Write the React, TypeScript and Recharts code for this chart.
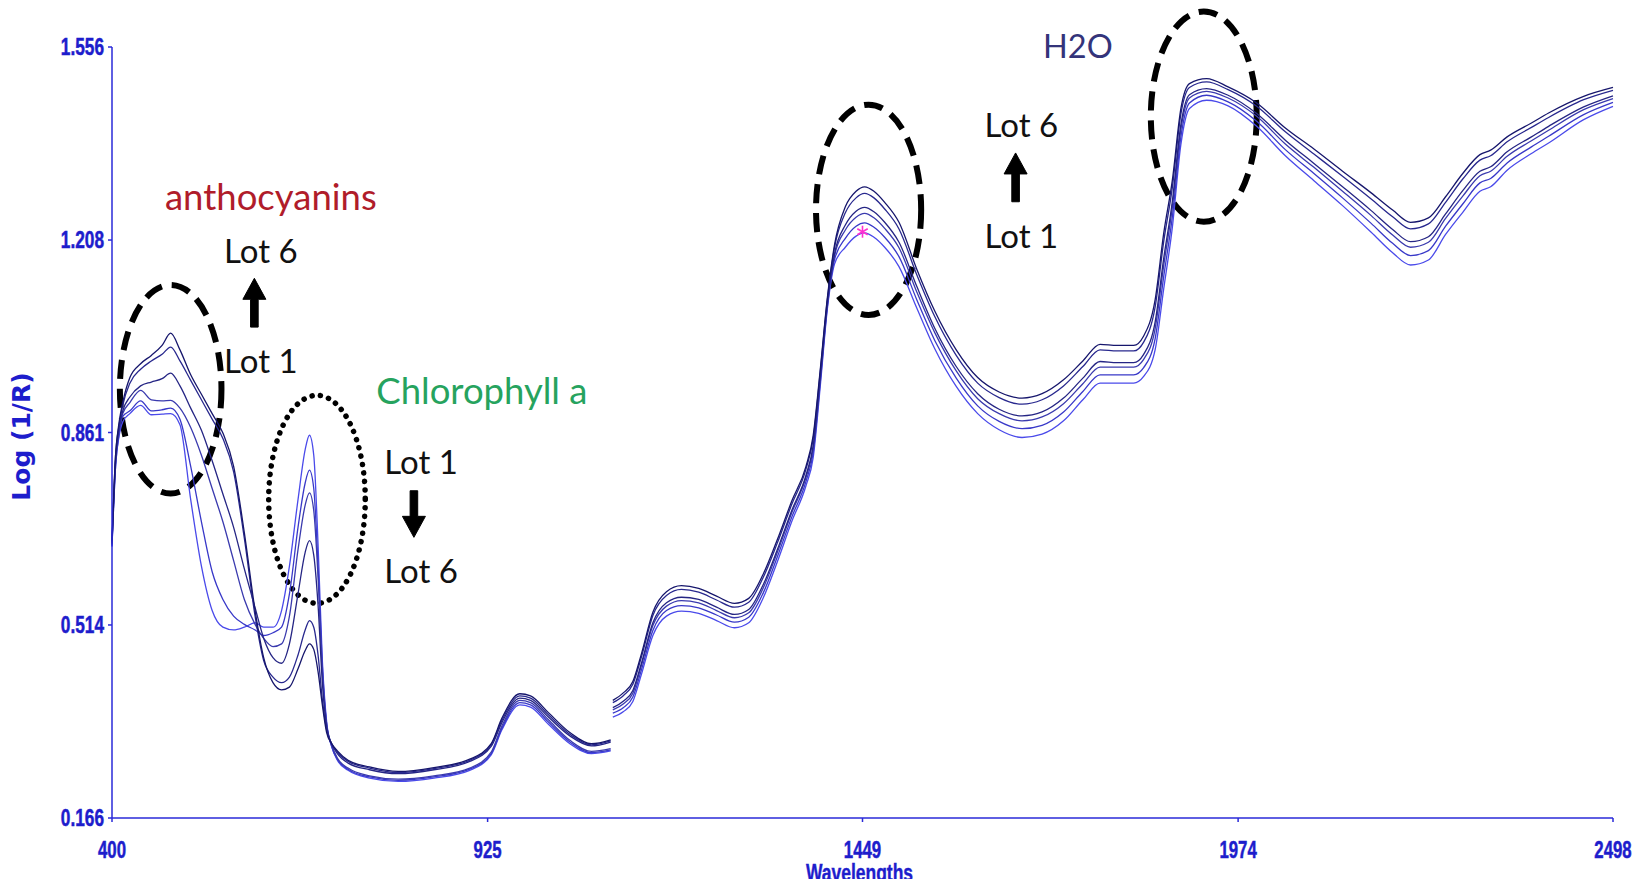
import React from 'react';
import { LineChart, Line, XAxis, YAxis, ReferenceArea, ReferenceDot } from 'recharts';

// Wavelengths (nm); the null row at 1099 marks the detector change gap
const wavelengths = [
  400, 405, 410, 415, 425, 440, 455, 470, 482, 495,
  510, 525, 540, 555, 570, 585, 600, 612, 625, 637,
  648, 660, 670, 676, 682, 688, 694, 700, 707, 715,
  730, 760, 800, 850, 900, 930, 945, 970, 985, 1010,
  1040, 1070, 1097,
  1099,
  1100, 1115, 1128, 1140, 1156, 1175, 1196, 1220, 1245, 1270,
  1290, 1310, 1330, 1350, 1370, 1380, 1390, 1400, 1410, 1425,
  1440, 1452, 1465, 1480, 1500, 1525, 1550, 1580, 1610, 1640,
  1672, 1700, 1730, 1757, 1781, 1805, 1828, 1842, 1858, 1870,
  1882, 1894, 1906, 1930, 1960, 2000, 2040, 2080, 2120, 2160,
  2190, 2215, 2240, 2264, 2288, 2312, 2327, 2350, 2384, 2408,
  2457, 2498,
];

const lot1 = [
  0.655, 0.80, 0.855, 0.88, 0.895, 0.91, 0.893, 0.894, 0.895, 0.875,
  0.74, 0.62, 0.54, 0.51, 0.505, 0.51, 0.518, 0.51, 0.51, 0.54,
  0.62, 0.74, 0.83, 0.856, 0.82, 0.66, 0.45, 0.34, 0.295, 0.27,
  0.252, 0.238, 0.232, 0.238, 0.252, 0.28, 0.325, 0.37, 0.366, 0.335,
  0.30, 0.282, 0.287,
  null,
  0.348, 0.358, 0.376, 0.425, 0.495, 0.530, 0.539, 0.535, 0.522, 0.509,
  0.518, 0.562, 0.628, 0.700, 0.765, 0.815, 0.945, 1.085, 1.165, 1.195,
  1.215, 1.221, 1.213, 1.195, 1.160, 1.085, 1.012, 0.944, 0.895, 0.866,
  0.852, 0.858, 0.882, 0.920, 0.950, 0.950, 0.950, 0.962, 1.010, 1.120,
  1.230, 1.380, 1.445, 1.460, 1.450, 1.413, 1.360, 1.315, 1.270, 1.222,
  1.185, 1.163, 1.172, 1.218, 1.258, 1.296, 1.304, 1.334, 1.364, 1.383,
  1.425, 1.449,
];

const lot2 = [
  0.657, 0.80, 0.86, 0.89, 0.90, 0.918, 0.90, 0.902, 0.905, 0.885,
  0.80, 0.70, 0.61, 0.56, 0.53, 0.515, 0.505, 0.495, 0.50, 0.51,
  0.57, 0.69, 0.77, 0.793, 0.76, 0.62, 0.44, 0.335, 0.295, 0.272,
  0.254, 0.240, 0.234, 0.240, 0.254, 0.282, 0.328, 0.374, 0.37, 0.339,
  0.303, 0.284, 0.289,
  null,
  0.355, 0.365, 0.384, 0.433, 0.504, 0.540, 0.549, 0.545, 0.532, 0.519,
  0.528, 0.571, 0.637, 0.708, 0.773, 0.824, 0.952, 1.089, 1.173, 1.211,
  1.233, 1.239, 1.231, 1.213, 1.178, 1.100, 1.027, 0.959, 0.909, 0.881,
  0.868, 0.874, 0.898, 0.935, 0.965, 0.965, 0.965, 0.978, 1.030, 1.142,
  1.249, 1.394, 1.455, 1.469, 1.457, 1.422, 1.371, 1.328, 1.284, 1.238,
  1.202, 1.180, 1.189, 1.233, 1.273, 1.311, 1.319, 1.347, 1.376, 1.395,
  1.434, 1.456,
];

const lot3 = [
  0.659, 0.81, 0.865, 0.895, 0.915, 0.937, 0.92, 0.918, 0.919, 0.905,
  0.87, 0.82, 0.76, 0.70, 0.63, 0.56, 0.515, 0.49, 0.475, 0.48,
  0.53, 0.65, 0.73, 0.752, 0.72, 0.60, 0.43, 0.335, 0.298, 0.274,
  0.256, 0.242, 0.236, 0.242, 0.256, 0.285, 0.332, 0.378, 0.374, 0.343,
  0.306, 0.286, 0.291,
  null,
  0.361, 0.372, 0.391, 0.441, 0.513, 0.548, 0.558, 0.554, 0.540, 0.527,
  0.536, 0.580, 0.645, 0.716, 0.780, 0.832, 0.958, 1.093, 1.180, 1.226,
  1.249, 1.256, 1.248, 1.229, 1.194, 1.114, 1.041, 0.972, 0.922, 0.895,
  0.882, 0.889, 0.913, 0.949, 0.979, 0.979, 0.979, 0.993, 1.048, 1.162,
  1.266, 1.407, 1.464, 1.476, 1.464, 1.431, 1.381, 1.339, 1.296, 1.252,
  1.217, 1.195, 1.204, 1.247, 1.287, 1.324, 1.332, 1.359, 1.387, 1.406,
  1.443, 1.463,
];

const lot4 = [
  0.661, 0.81, 0.87, 0.90, 0.925, 0.945, 0.952, 0.958, 0.968, 0.945,
  0.905, 0.865, 0.81, 0.75, 0.69, 0.615, 0.545, 0.49, 0.455, 0.445,
  0.48, 0.57, 0.645, 0.666, 0.64, 0.55, 0.41, 0.33, 0.30, 0.282,
  0.265, 0.253, 0.246, 0.253, 0.268, 0.295, 0.338, 0.382, 0.378, 0.348,
  0.314, 0.296, 0.303,
  null,
  0.365, 0.377, 0.396, 0.445, 0.518, 0.554, 0.564, 0.560, 0.546, 0.533,
  0.542, 0.586, 0.650, 0.720, 0.784, 0.837, 0.962, 1.096, 1.184, 1.235,
  1.260, 1.267, 1.259, 1.240, 1.204, 1.124, 1.049, 0.980, 0.931, 0.903,
  0.891, 0.898, 0.923, 0.959, 0.989, 0.987, 0.987, 1.002, 1.060, 1.175,
  1.277, 1.416, 1.470, 1.481, 1.469, 1.436, 1.388, 1.346, 1.304, 1.261,
  1.227, 1.205, 1.214, 1.255, 1.297, 1.332, 1.340, 1.367, 1.394, 1.413,
  1.448, 1.468,
];

const lot5 = [
  0.663, 0.82, 0.875, 0.91, 0.95, 0.975, 0.99, 1.002, 1.015, 0.99,
  0.955, 0.92, 0.885, 0.85, 0.79, 0.67, 0.53, 0.45, 0.42, 0.41,
  0.42, 0.46, 0.505, 0.522, 0.51, 0.46, 0.38, 0.325, 0.30, 0.285,
  0.268, 0.256, 0.248, 0.255, 0.270, 0.298, 0.342, 0.386, 0.382, 0.352,
  0.317, 0.298, 0.305,
  null,
  0.374, 0.387, 0.407, 0.456, 0.531, 0.567, 0.578, 0.573, 0.559, 0.546,
  0.555, 0.599, 0.662, 0.731, 0.795, 0.849, 0.971, 1.102, 1.195, 1.257,
  1.284, 1.292, 1.284, 1.264, 1.228, 1.145, 1.070, 1.000, 0.950, 0.924,
  0.912, 0.920, 0.945, 0.980, 1.010, 1.008, 1.008, 1.024, 1.087, 1.205,
  1.302, 1.435, 1.483, 1.493, 1.479, 1.449, 1.403, 1.363, 1.323, 1.282,
  1.250, 1.228, 1.237, 1.276, 1.318, 1.352, 1.360, 1.385, 1.411, 1.429,
  1.461, 1.478,
];

const lot6 = [
  0.665, 0.82, 0.88, 0.915, 0.96, 0.985, 1.00, 1.018, 1.040, 1.01,
  0.965, 0.93, 0.895, 0.86, 0.80, 0.68, 0.54, 0.455, 0.41, 0.397,
  0.402, 0.435, 0.468, 0.48, 0.47, 0.43, 0.37, 0.32, 0.30, 0.287,
  0.27, 0.258, 0.25, 0.257, 0.272, 0.30, 0.346, 0.39, 0.386, 0.356,
  0.32, 0.30, 0.307,
  null,
  0.378, 0.392, 0.412, 0.462, 0.537, 0.574, 0.585, 0.580, 0.566, 0.553,
  0.562, 0.605, 0.668, 0.737, 0.800, 0.855, 0.975, 1.105, 1.200, 1.268,
  1.296, 1.304, 1.296, 1.276, 1.240, 1.155, 1.080, 1.010, 0.960, 0.934,
  0.923, 0.931, 0.956, 0.990, 1.020, 1.018, 1.018, 1.035, 1.100, 1.220,
  1.315, 1.445, 1.490, 1.499, 1.484, 1.455, 1.410, 1.372, 1.332, 1.293,
  1.262, 1.240, 1.248, 1.286, 1.328, 1.362, 1.370, 1.394, 1.419, 1.437,
  1.467, 1.483,
];

const xTicks = [400, 925, 1449, 1974, 2498];
const yTicks = [0.166, 0.514, 0.861, 1.208, 1.556];

const lotKeys = ['lot1', 'lot2', 'lot3', 'lot4', 'lot5', 'lot6'];
const lotColors = ['#4a4aea', '#3838c8', '#3a3aae', '#252584', '#28288e', '#16166c'];

// Annotations (data coordinates)
const ellipses = [
  { x1: 411, x2: 553, y1: 0.751, y2: 1.127, dotted: false },
  { x1: 619, x2: 754, y1: 0.553, y2: 0.928, dotted: true },
  { x1: 1384, x2: 1531, y1: 1.073, y2: 1.452, dotted: false },
  { x1: 1852, x2: 2000, y1: 1.241, y2: 1.62, dotted: false },
];

const labels = [
  { text: 'anthocyanins', x: 622, y: 1.262, color: '#b01c2a', size: 36.5 },
  { text: 'Lot 6', x: 608, y: 1.167, color: '#111111', size: 33 },
  { text: 'Lot 1', x: 608, y: 0.968, color: '#111111', size: 33 },
  { text: 'Chlorophyll a', x: 917, y: 0.912, color: '#26a35e', size: 36.5 },
  { text: 'Lot 1', x: 832, y: 0.787, color: '#111111', size: 33 },
  { text: 'Lot 6', x: 832, y: 0.589, color: '#111111', size: 33 },
  { text: 'H2O', x: 1750, y: 1.537, color: '#34347a', size: 32.5 },
  { text: 'Lot 6', x: 1671, y: 1.394, color: '#111111', size: 33 },
  { text: 'Lot 1', x: 1671, y: 1.194, color: '#111111', size: 33 },
];

const arrows = [
  { x: 599, from: 1.051, to: 1.139 },
  { x: 822, from: 0.756, to: 0.672 },
  { x: 1663, from: 1.277, to: 1.365 },
];

const star = { x: 1449, y: 1.223 };

const data = wavelengths.map((wl, i) => ({
  wl,
  lot1: lot1[i],
  lot2: lot2[i],
  lot3: lot3[i],
  lot4: lot4[i],
  lot5: lot5[i],
  lot6: lot6[i],
}));

const AXIS_COLOR = '#2a2ad8';
const TICK_COLOR = '#1d1dcc';
const TICK_FONT = "'Liberation Sans', Arial, sans-serif";
const ANNOT_FONT = "Lato, 'Open Sans', 'Noto Sans', sans-serif";

const makeEllipse = (dotted: boolean) => (p: any) => {
  const cx = p.x + p.width / 2;
  const cy = p.y + p.height / 2;
  return (
    <ellipse
      cx={cx}
      cy={cy}
      rx={Math.abs(p.width) / 2}
      ry={Math.abs(p.height) / 2}
      fill="none"
      stroke="#000"
      strokeWidth={dotted ? 5.5 : 6}
      strokeDasharray={dotted ? '0.1 8.4' : '19 10'}
      strokeLinecap={dotted ? 'round' : 'butt'}
    />
  );
};

const makeArrow = (up: boolean) => (p: any) => {
  const cx = p.x + p.width / 2;
  const top = p.y;
  const bottom = p.y + p.height;
  const head = 21;
  const hw = 11.5;
  const sw = 3.8;
  let d: string;
  if (up) {
    d = `M${cx - sw},${bottom} L${cx - sw},${top + head} L${cx - hw},${top + head} L${cx},${top} L${cx + hw},${top + head} L${cx + sw},${top + head} L${cx + sw},${bottom} Z`;
  } else {
    d = `M${cx - sw},${top} L${cx - sw},${bottom - head} L${cx - hw},${bottom - head} L${cx},${bottom} L${cx + hw},${bottom - head} L${cx + sw},${bottom - head} L${cx + sw},${top} Z`;
  }
  return <path d={d} fill="#000" stroke="#000" strokeWidth={1} strokeLinejoin="round" />;
};

const makeText = (text: string, color: string, size: number) => (p: any) => (
  <text
    x={p.cx}
    y={p.cy}
    textAnchor="middle"
    fill={color}
    fontFamily={ANNOT_FONT}
    fontSize={size}
  >
    {text}
  </text>
);

const starShape = (p: any) => {
  const r = 6;
  const c = '#ff2fd0';
  return (
    <g stroke={c} strokeWidth={1.6}>
      <line x1={p.cx} y1={p.cy - r} x2={p.cx} y2={p.cy + r} />
      <line x1={p.cx - r * 0.87} y1={p.cy - r / 2} x2={p.cx + r * 0.87} y2={p.cy + r / 2} />
      <line x1={p.cx - r * 0.87} y1={p.cy + r / 2} x2={p.cx + r * 0.87} y2={p.cy - r / 2} />
    </g>
  );
};

const XTick = (props: any) => {
  const { x, y, payload } = props;
  return (
    <g transform={`translate(${x},${y})`}>
      <text
        transform="scale(0.7,1)"
        textAnchor="middle"
        dy="0.71em"
        fill={TICK_COLOR}
        stroke={TICK_COLOR}
        strokeWidth={0.5}
        fontFamily={TICK_FONT}
        fontWeight="bold"
        fontSize={24}
      >
        {payload.value}
      </text>
    </g>
  );
};

const YTick = (props: any) => {
  const { x, y, payload } = props;
  return (
    <g transform={`translate(${x},${y})`}>
      <text
        transform="scale(0.75,1)"
        textAnchor="end"
        dy="0.355em"
        fill={TICK_COLOR}
        stroke={TICK_COLOR}
        strokeWidth={0.5}
        fontFamily={TICK_FONT}
        fontWeight="bold"
        fontSize={23}
      >
        {Number(payload.value).toFixed(3)}
      </text>
    </g>
  );
};

const YLabel = (props: any) => {
  const vb = props.viewBox || { x: 0, y: 39, width: 104, height: 771 };
  const x = vb.x + 13;
  const y = vb.y + vb.height / 2 + 4;
  return (
    <text
      x={x}
      y={y}
      transform={`rotate(-90, ${x}, ${y})`}
      textAnchor="middle"
      dominantBaseline="central"
      fill={TICK_COLOR}
      fontFamily="'DejaVu Sans', sans-serif"
      fontWeight="bold"
      fontSize={25}
    >
      Log (1/R)
    </text>
  );
};

const XLabel = (props: any) => {
  const vb = props.viewBox || { x: 104, y: 810, width: 1501, height: 50 };
  const x = vb.x + vb.width / 2 - 3;
  const y = vb.y + 63;
  return (
    <g transform={`translate(${x},${y})`}>
      <text
        transform="scale(0.76,1)"
        textAnchor="middle"
        fill={TICK_COLOR}
        stroke={TICK_COLOR}
        strokeWidth={0.4}
        fontFamily={TICK_FONT}
        fontWeight="bold"
        fontSize={23}
      >
        Wavelengths
      </text>
    </g>
  );
};

export default function App() {
  return (
    <div style={{ width: 1629, height: 879, marginBottom: -8, background: '#fff' }}>
      <style>{`svg.recharts-surface { overflow: visible; }`}</style>
      <LineChart
        width={1629}
        height={879}
        data={data}
        margin={{ top: 39, right: 24, bottom: 19, left: 0 }}
      >
        <XAxis
          dataKey="wl"
          type="number"
          domain={[400, 2498]}
          ticks={xTicks}
          interval={0}
          stroke={AXIS_COLOR}
          strokeWidth={1.5}
          tickSize={4}
          tickMargin={19}
          height={50}
          tick={<XTick />}
          label={<XLabel />}
        />
        <YAxis
          type="number"
          domain={[0.166, 1.556]}
          ticks={yTicks}
          interval={0}
          width={104}
          stroke={AXIS_COLOR}
          strokeWidth={1.5}
          tickSize={4}
          tickMargin={4}
          tick={<YTick />}
          label={<YLabel />}
        />
        {lotKeys.map((k, i) => (
          <Line
            key={k}
            dataKey={k}
            type="monotone"
            stroke={lotColors[i]}
            strokeWidth={1.3}
            dot={false}
            activeDot={false}
            connectNulls={false}
            isAnimationActive={false}
          />
        ))}
        {ellipses.map((e, i) => (
          <ReferenceArea
            key={'el' + i}
            x1={e.x1}
            x2={e.x2}
            y1={e.y1}
            y2={e.y2}
            ifOverflow="visible"
            shape={makeEllipse(e.dotted)}
          />
        ))}
        {arrows.map((a, i) => (
          <ReferenceArea
            key={'ar' + i}
            x1={a.x - 2}
            x2={a.x + 2}
            y1={Math.min(a.from, a.to)}
            y2={Math.max(a.from, a.to)}
            ifOverflow="visible"
            shape={makeArrow(a.to > a.from)}
          />
        ))}
        {labels.map((l, i) => (
          <ReferenceDot
            key={'lb' + i}
            x={l.x}
            y={l.y}
            r={0}
            ifOverflow="visible"
            shape={makeText(l.text, l.color, l.size)}
          />
        ))}
        <ReferenceDot x={star.x} y={star.y} r={0} ifOverflow="visible" shape={starShape} />
      </LineChart>
    </div>
  );
}
